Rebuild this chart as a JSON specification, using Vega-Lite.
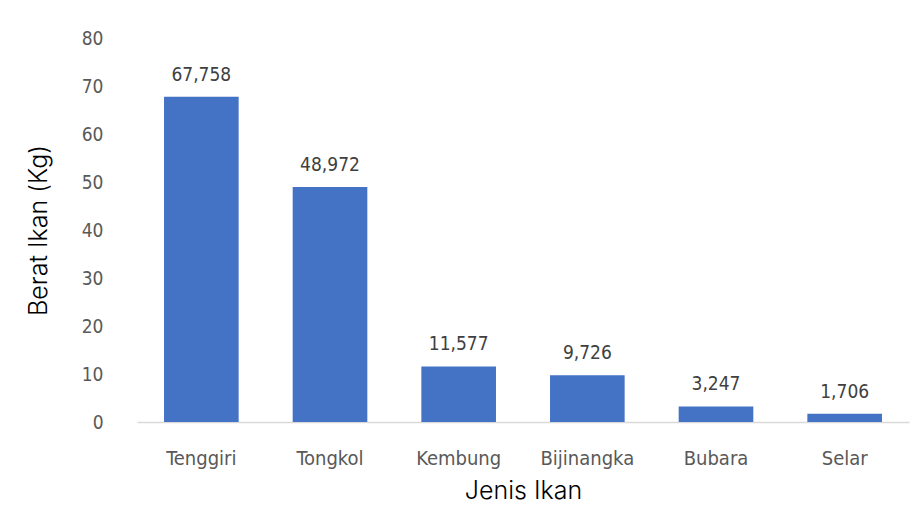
{
  "$schema": "https://vega.github.io/schema/vega-lite/v6.json",
  "autosize": "none",
  "width": 772,
  "height": 384,
  "padding": {"left": 137, "top": 38, "right": 9, "bottom": 100},
  "background": "white",
  "data": {"values": [
    {"jenis": "Tenggiri", "berat": 67.758, "label": "67,758"},
    {"jenis": "Tongkol", "berat": 48.972, "label": "48,972"},
    {"jenis": "Kembung", "berat": 11.577, "label": "11,577"},
    {"jenis": "Bijinangka", "berat": 9.726, "label": "9,726"},
    {"jenis": "Bubara", "berat": 3.247, "label": "3,247"},
    {"jenis": "Selar", "berat": 1.706, "label": "1,706"}
  ]},
  "encoding": {
    "x": {"field": "jenis", "type": "nominal", "sort": null,
      "scale": {"paddingInner": 0.42, "paddingOuter": 0.21},
      "axis": {"title": "Jenis Ikan", "labelAngle": 0, "ticks": false, "domainColor": "#d9d9d9", "domainWidth": 1.5,
        "labelFont": "Liberation Sans Narrow, DejaVu Sans Condensed, sans-serif", "labelFontSize": 20, "labelColor": "#595959", "labelPadding": 26,
        "titleFont": "Inter", "titleFontSize": 25, "titleFontWeight": 300, "titleColor": "#000000", "titlePadding": 10}},
    "y": {"field": "berat", "type": "quantitative",
      "scale": {"domain": [0, 80], "nice": false},
      "axis": {"title": "Berat Ikan (Kg)", "values": [0,10,20,30,40,50,60,70,80], "grid": false, "domain": false, "ticks": false,
        "labelFont": "Liberation Sans Narrow, DejaVu Sans Condensed, sans-serif", "labelFontSize": 19, "labelColor": "#595959", "labelPadding": 34,
        "titleFont": "Inter", "titleFontSize": 25, "titleFontWeight": 300, "titleColor": "#000000", "titlePadding": 30}}
  },
  "layer": [
    {"mark": {"type": "bar", "color": "#4472C4"}},
    {"mark": {"type": "text", "baseline": "bottom", "dy": -12, "font": "Liberation Sans Narrow, DejaVu Sans Condensed, sans-serif", "fontSize": 19, "color": "#404040"},
     "encoding": {"text": {"field": "label"}}}
  ],
  "config": {"view": {"stroke": null}}
}
